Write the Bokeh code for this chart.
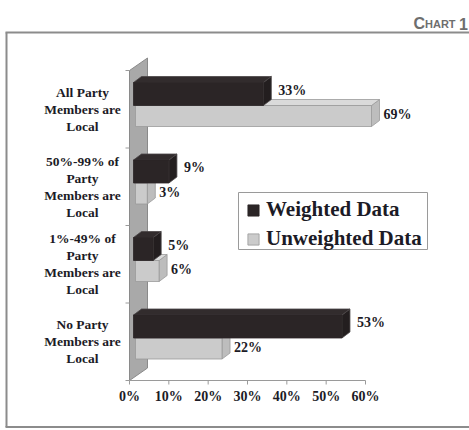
from bokeh.plotting import figure
from bokeh.models import Range1d, Legend, LegendItem, Label
from bokeh.core.properties import value
from bokeh.embed import file_html
from bokeh.resources import INLINE

# ---------------- data ----------------
categories = [
    "All Party\nMembers are\nLocal",
    "50%-99% of\nParty\nMembers are\nLocal",
    "1%-49% of\nParty\nMembers are\nLocal",
    "No Party\nMembers are\nLocal",
]
weighted = [33, 9, 5, 53]
unweighted = [69, 3, 6, 22]
series_names = ["Weighted Data", "Unweighted Data"]
tick_values = [0, 10, 20, 30, 40, 50, 60]
tick_labels = ["0%", "10%", "20%", "30%", "40%", "50%", "60%"]
axis_max = 60

# ---------------- layout / style ----------------
W, H = 469, 430
X0 = 129.0          # screen px of 0 %
X60 = 365.0         # screen px of 60 %
K = (X60 - X0) / axis_max
Y0 = 70.0           # screen px of the first category boundary
U = 77.5            # px per category

def dx(px):
    return px / K

def dy(px):
    return px / U

SERIF = value("Liberation Serif")
TXT = "#1c1b26"

p = figure(width=W, height=H,
           x_range=Range1d(-X0 / K, (W - X0) / K),
           y_range=Range1d((H - Y0) / U, -Y0 / U),
           x_axis_type=None, y_axis_type=None,
           toolbar_location=None, output_backend="svg",
           min_border=0, outline_line_color=None,
           background_fill_color="white", border_fill_color="white")

xl, xr = -X0 / K, (W - X0) / K
yt, yb = -Y0 / U, (H - Y0) / U
FR = "#8c8c8c"
# outer frame
p.segment(x0=[xl + dx(5)], y0=[yt + dy(32)], x1=[xr], y1=[yt + dy(32)], line_color=FR, line_width=2)
p.segment(x0=[xl + dx(6)], y0=[yt + dy(32)], x1=[xl + dx(6)], y1=[yt + dy(426.5)], line_color=FR, line_width=2)
p.segment(x0=[xl + dx(5)], y0=[yt + dy(426.5)], x1=[xr], y1=[yt + dy(426.5)], line_color=FR, line_width=2)

# "CHART 1" heading (small caps)
HF = "Liberation Sans"
HC = "#6e6e6e"
p.add_layout(Label(x=xl + dx(413), y=yt + dy(23.3), text="C", text_font=HF,
                   text_font_style="bold", text_font_size="16px", text_color=HC,
                   text_baseline="alphabetic", text_align="left"))
p.add_layout(Label(x=xl + dx(424.5), y=yt + dy(23.3), text="HART", text_font=HF,
                   text_font_style="bold", text_font_size="11px", text_color=HC,
                   text_baseline="alphabetic", text_align="left"))
p.add_layout(Label(x=xl + dx(458.5), y=yt + dy(23.3), text="1", text_font=HF,
                   text_font_style="bold", text_font_size="16px", text_color=HC,
                   text_baseline="alphabetic", text_align="left"))

n = len(categories)
# side wall (3-D)
wdx, wdy = dx(18), -dy(12.5)
p.patch(x=[0, wdx, wdx, 0], y=[0, wdy, n + wdy, n], fill_color="#a9a9a9",
        line_color="#8a8a8a", line_width=1)

# left category ticks
p.segment(x0=[-dx(4)] * (n + 1), y0=list(range(n + 1)), x1=[0] * (n + 1), y1=list(range(n + 1)),
          line_color="#9a9a9a", line_width=1)
# bottom axis
p.segment(x0=[0], y0=[n], x1=[axis_max], y1=[n], line_color="#9a9a9a", line_width=1)
p.segment(x0=tick_values, y0=[n] * len(tick_values), x1=tick_values,
          y1=[n + dy(4)] * len(tick_values), line_color="#9a9a9a", line_width=1)
p.text(x=tick_values, y=[n + dy(16)] * len(tick_values), text=tick_labels,
       text_font=SERIF, text_font_style="bold", text_font_size="14px",
       text_color=TXT, text_align="center", text_baseline="middle")

# category labels
p.text(x=[dx(82 - X0)] * n, y=[i + 0.5 for i in range(n)], text=categories,
       text_font=SERIF, text_font_style="bold", text_font_size="13.5px",
       text_color=TXT, text_align="center", text_baseline="middle", text_line_height=1.14)

# ---------------- 3-D bars ----------------
ddx, ddy = dx(8), -dy(6)

def bar_geom(vals, x_shift, top_px, bot_px):
    L, R, T, B = [], [], [], []
    tops_x, tops_y, side_x, side_y = [], [], [], []
    for i, v in enumerate(vals):
        l = dx(x_shift)
        r = l + min(v, axis_max)
        t = i + dy(top_px)
        b = i + dy(bot_px)
        L.append(l); R.append(r); T.append(t); B.append(b)
        tops_x.append([l, l + ddx, r + ddx, r]); tops_y.append([t, t + ddy, t + ddy, t])
        side_x.append([r, r + ddx, r + ddx, r]); side_y.append([t, t + ddy, b + ddy, b])
    return L, R, T, B, tops_x, tops_y, side_x, side_y

# unweighted (light grey)
gL, gR, gT, gB, gtx, gty, gsx, gsy = bar_geom(unweighted, 6, 35, 56)
p.patches(xs=gsx, ys=gsy, fill_color="#bdbdbd", line_color="#9a9a9a", line_width=0.8)
p.patches(xs=gtx, ys=gty, fill_color="#dadada", line_color="#9a9a9a", line_width=0.8)
r_unw = p.quad(left=gL, right=gR, top=gT, bottom=gB, fill_color="#cbcbcb",
               line_color="#9a9a9a", line_width=0.8)

# weighted (black)
bL, bR, bT, bB, btx, bty, bsx, bsy = bar_geom(weighted, 4, 12, 35)
p.patches(xs=bsx, ys=bsy, fill_color="#231e1f", line_color="#4a4546", line_width=0.8)
p.patches(xs=btx, ys=bty, fill_color="#322c2d", line_color="#4a4546", line_width=0.8)
r_w = p.quad(left=bL, right=bR, top=bT, bottom=bB, fill_color="#2b2526",
             line_color="#2b2526", line_width=0.8)

# value labels
p.text(x=[r + ddx + dx(7) for r in bR], y=[i + dy(19.5) for i in range(n)],
       text=[f"{v}%" for v in weighted], text_font=SERIF, text_font_style="bold",
       text_font_size="14px", text_color=TXT, text_align="left", text_baseline="middle")
p.text(x=[r + ddx + dx(4) for r in gR], y=[i + dy(44) for i in range(n)],
       text=[f"{v}%" for v in unweighted], text_font=SERIF, text_font_style="bold",
       text_font_size="14px", text_color=TXT, text_align="left", text_baseline="middle")

# legend box (drawn as a glyph) + legend entries
p.quad(left=[dx(238 - X0)], right=[dx(427 - X0)], top=[dy(192 - Y0)], bottom=[dy(249 - Y0)],
       fill_color="white", line_color="#9a9a9a", line_width=1)
legend = Legend(items=[LegendItem(label=series_names[0], renderers=[r_w]),
                       LegendItem(label=series_names[1], renderers=[r_unw])],
                location=(246, H - 251), orientation="vertical",
                label_text_font="Liberation Serif", label_text_font_style="bold",
                label_text_font_size="21px", label_text_color=TXT,
                glyph_width=14, glyph_height=14, label_standoff=6,
                padding=0, spacing=4, margin=0,
                border_line_color=None, background_fill_alpha=0.0)
p.add_layout(legend)

open("out.html", "w").write(file_html(p, INLINE))
